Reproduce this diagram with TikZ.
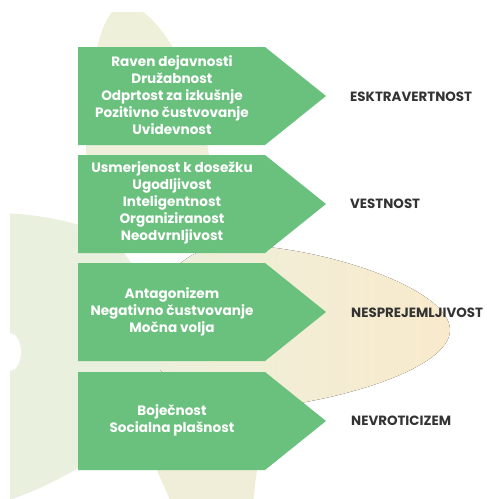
\documentclass[tikz,border=0pt]{standalone}
\usepackage{fontspec}
\setmainfont{Poppins}
\begin{document}
\begin{tikzpicture}[x=1pt,y=-1pt]
\definecolor{arrowgreen}{RGB}{106,192,125}
\definecolor{leftpetal}{RGB}{233,240,221}
\definecolor{toppetal}{RGB}{238,240,218}
\definecolor{botpetal}{RGB}{240,238,216}
\definecolor{rightA}{RGB}{236,240,220}
\definecolor{rightB}{RGB}{249,234,204}
\definecolor{labelgray}{RGB}{51,51,51}
\tikzset{
  arrowshape/.style={fill=arrowgreen},
  inner/.style={text=white, font=\fontsize{13.6}{17}\selectfont\bfseries, align=center, inner sep=0pt},
  traitlabel/.style={text=labelgray, font=\fontsize{13.4}{15}\selectfont\bfseries, anchor=west, inner sep=0pt}
}
\useasboundingbox (0,0) rectangle (487,499);
% background flower
\begin{scope}
\clip (10,12) rectangle (487,499);
\fill[toppetal] (86,240) .. controls (82,100) and (95,5) .. (125,5) .. controls (160,5) and (218,100) .. (215,240) -- cycle;
\fill[left color=rightA, right color=rightB] (150,300) .. controls (180,250) and (210,245) .. (240,245) .. controls (330,248) and (450,290) .. (450,330) .. controls (450,370) and (330,405) .. (240,410) .. controls (200,410) and (170,380) .. (150,360) -- cycle;
\fill[leftpetal] (0,213) .. controls (40,214) and (75,222) .. (110,235) -- (160,300) -- (160,400) -- (80,467) .. controls (50,485) and (20,497) .. (0,503) -- cycle;
\fill[botpetal] (150,440) -- (260,440) -- (257,470) .. controls (255,485) and (254,495) .. (253,505) -- (172,505) .. controls (166,490) and (160,478) .. (156,468) -- cycle;
\fill[white] (10,352) ellipse [x radius=11, y radius=19];
\end{scope}
% arrows
\fill[arrowshape] (78,47) -- (265,47) -- (326,96) -- (265,145) -- (78,145) -- cycle;
\fill[arrowshape] (78,155) -- (265,155) -- (326,204) -- (265,253) -- (78,253) -- cycle;
\fill[arrowshape] (78,263) -- (265,263) -- (326,312) -- (265,361) -- (78,361) -- cycle;
\fill[arrowshape] (78,372) -- (265,372) -- (326,421) -- (265,470) -- (78,470) -- cycle;
% texts
\node[inner] (t1) at (172,95) {Raven dejavnosti\\Družabnost\\Odprtost za izkušnje\\Pozitivno čustvovanje\\Uvidevnost};
\node[inner] (t2) at (172,203) {Usmerjenost k dosežku\\Ugodljivost\\Inteligentnost\\Organiziranost\\Neodvrnljivost};
\node[inner] (t3) at (172,312) {Antagonizem\\Negativno čustvovanje\\Močna volja};
\node[inner] (t4) at (172,420) {Boječnost\\Socialna plašnost};
\node[traitlabel] (l1) at (350,97) {ESKTRAVERTNOST};
\node[traitlabel] (l2) at (350,204) {VESTNOST};
\node[traitlabel] (l3) at (351,313) {NESPREJEMLJIVOST};
\node[traitlabel] (l4) at (351,421) {NEVROTICIZEM};
\end{tikzpicture}
\end{document}
